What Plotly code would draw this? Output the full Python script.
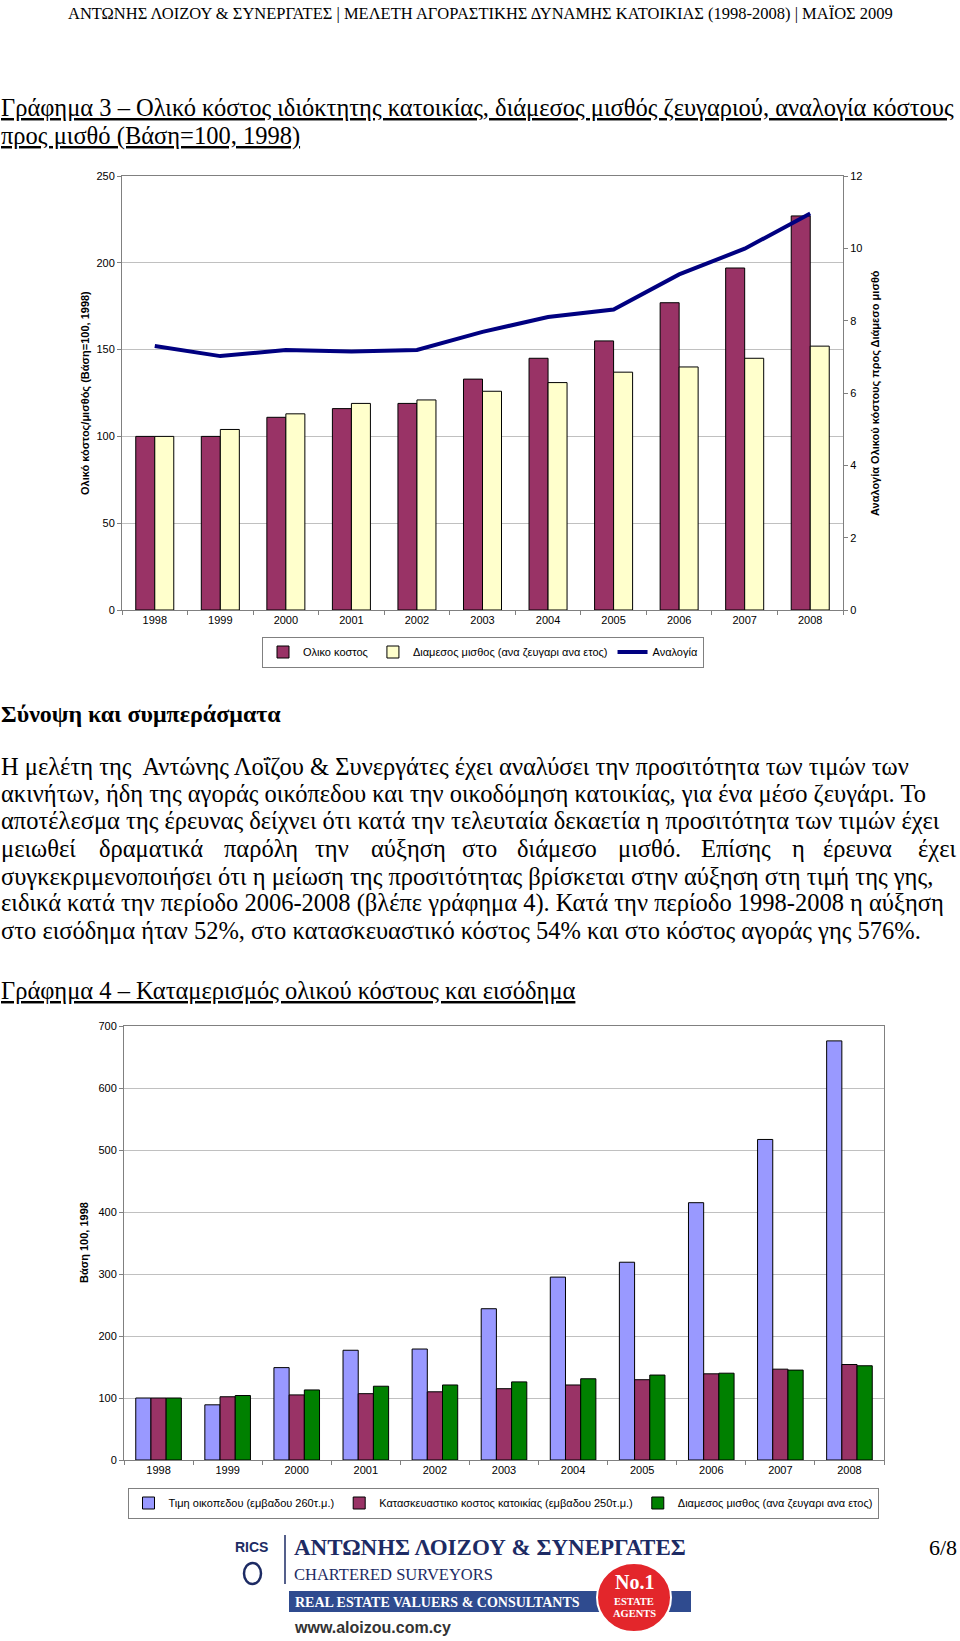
import plotly.graph_objects as go

W, H = 960, 1641

# ---------------- data ----------------
years = ["1998", "1999", "2000", "2001", "2002", "2003", "2004", "2005", "2006", "2007", "2008"]

# Chart 3
total_cost = [100, 100, 111, 116, 119, 133, 145, 155, 177, 197, 227]
median_salary = [100, 104, 113, 119, 121, 126, 131, 137, 140, 145, 152]
ratio = [7.30, 7.02, 7.19, 7.15, 7.19, 7.69, 8.10, 8.31, 9.28, 9.99, 10.96]

# Chart 4
land_price = [100, 89, 149, 177, 179, 244, 295, 319, 415, 517, 676]
construction_cost = [100, 102, 105, 107, 110, 115, 121, 129.5, 139, 146.5, 154]

left_ticks_1 = [0, 50, 100, 150, 200, 250]
right_ticks_1 = [0, 2, 4, 6, 8, 10, 12]
left_ticks_2 = [0, 100, 200, 300, 400, 500, 600, 700]

SERIF = "Liberation Serif, Times New Roman, serif"
SANS = "Liberation Sans, Arial, sans-serif"

MAROON = "#993366"
CREAM = "#FFFFCC"
LBLUE = "#9999FF"
GREEN = "#008000"
NAVY = "#000080"


def X(px):
    return px / W


def Y(py):
    return 1 - py / H


fig = go.Figure()

# ---------- chart 3 ----------
fig.add_trace(go.Bar(x=years, y=total_cost, name="Ολικο κοστος", marker=dict(color=MAROON, line=dict(color="black", width=1)),
                     offset=-0.29, width=0.29, xaxis="x", yaxis="y", legend="legend"))
fig.add_trace(go.Bar(x=years, y=median_salary, name="Διαμεσος μισθος (ανα ζευγαρι ανα ετος)",
                     marker=dict(color=CREAM, line=dict(color="black", width=1)),
                     offset=0.0, width=0.29, xaxis="x", yaxis="y", legend="legend"))
fig.add_trace(go.Scatter(x=years, y=ratio, name="Αναλογία", mode="lines", line=dict(color=NAVY, width=4),
                         xaxis="x", yaxis="y2", legend="legend"))

# ---------- chart 4 ----------
fig.add_trace(go.Bar(x=years, y=land_price, name="Τιμη οικοπεδου (εμβαδου 260τ.μ.)",
                     marker=dict(color=LBLUE, line=dict(color="black", width=1)),
                     offset=-0.33, width=0.22, xaxis="x2", yaxis="y3", legend="legend2"))
fig.add_trace(go.Bar(x=years, y=construction_cost, name="Κατασκευαστικο κοστος κατοικίας (εμβαδου 250τ.μ.)",
                     marker=dict(color=MAROON, line=dict(color="black", width=1)),
                     offset=-0.11, width=0.22, xaxis="x2", yaxis="y3", legend="legend2"))
fig.add_trace(go.Bar(x=years, y=median_salary, name="Διαμεσος μισθος (ανα ζευγαρι ανα ετος)",
                     marker=dict(color=GREEN, line=dict(color="black", width=1)),
                     offset=0.11, width=0.22, xaxis="x2", yaxis="y3", legend="legend2"))

axis_common = dict(showline=True, linecolor="#808080", linewidth=1, ticks="outside", ticklen=4,
                   tickcolor="#808080", tickfont=dict(family=SANS, size=11, color="black"), zeroline=False)

fig.update_layout(
    width=W, height=H, margin=dict(l=0, r=0, t=0, b=0, autoexpand=False),
    paper_bgcolor="white", plot_bgcolor="white", barmode="overlay", showlegend=True,
    xaxis=dict(domain=[X(122), X(843)], anchor="y", type="category", mirror=True, tickson="boundaries",
               showgrid=False, **axis_common),
    yaxis=dict(domain=[Y(610), Y(176)], anchor="x", range=[0, 250], tickvals=left_ticks_1,
               showgrid=True, gridcolor="#c0c0c0", gridwidth=1, **axis_common),
    yaxis2=dict(overlaying="y", side="right", anchor="x", range=[0, 12], tickvals=right_ticks_1,
                showgrid=False, **axis_common),
    xaxis2=dict(domain=[X(124), X(884)], anchor="y3", type="category", mirror=True, tickson="boundaries",
                showgrid=False, **axis_common),
    yaxis3=dict(domain=[Y(1460), Y(1026)], anchor="x2", range=[0, 700], tickvals=left_ticks_2, mirror=True,
                showgrid=True, gridcolor="#c0c0c0", gridwidth=1, **axis_common),
    legend=dict(orientation="h", x=X(483), y=Y(652), xanchor="center", yanchor="middle",
                bordercolor="#808080", borderwidth=1, bgcolor="white",
                font=dict(family=SANS, size=11, color="black"), itemwidth=30, tracegroupgap=0,
                traceorder="normal"),
    legend2=dict(orientation="h", x=X(503), y=Y(1503), xanchor="center", yanchor="middle",
                 bordercolor="#808080", borderwidth=1, bgcolor="white",
                 font=dict(family=SANS, size=11, color="black"), itemwidth=30, tracegroupgap=0,
                 traceorder="normal"),
)

annotations = []


def T(text, x, y, size, xanchor="left", color="black", family=SERIF, angle=0):
    annotations.append(dict(text=text, x=X(x), y=Y(y), xref="paper", yref="paper", xanchor=xanchor,
                            yanchor="middle", showarrow=False, textangle=angle, borderpad=0,
                            font=dict(family=family, size=size, color=color)))


BODY = 24.5

# header
T("ΑΝΤΩΝΗΣ ΛΟΙΖΟΥ & ΣΥΝΕΡΓΑΤΕΣ | ΜΕΛΕΤΗ ΑΓΟΡΑΣΤΙΚΗΣ ΔΥΝΑΜΗΣ ΚΑΤΟΙΚΙΑΣ (1998-2008) | ΜΑΪΟΣ 2009",
  480, 13, 16.5, xanchor="center")

# chart 3 title
T("<u>Γράφημα 3 – Ολικό κόστος ιδιόκτητης κατοικίας, διάμεσος μισθός ζευγαριού, αναλογία κόστους</u>",
  0, 108, BODY)
T("<u>προς μισθό (Βάση=100, 1998)</u>", 0, 136, BODY)

# axis titles chart 3
T("<b>Ολικό κόστος/μισθός (Βάση=100, 1998)</b>", 85, 393, 11, xanchor="center", family=SANS, angle=-90)
T("<b>Αναλογία Ολικού κόστους προς Διάμεσο μισθό</b>", 875, 393, 11, xanchor="center", family=SANS, angle=-90)

# summary heading and paragraph
T("<b>Σύνοψη και συμπεράσματα</b>", 0, 714, 24)

para_lines = [
    "Η μελέτη της  Αντώνης Λοΐζου & Συνεργάτες έχει αναλύσει την προσιτότητα των τιμών των",
    "ακινήτων, ήδη της αγοράς οικόπεδου και την οικοδόμηση κατοικίας, για ένα μέσο ζευγάρι. Το",
    "αποτέλεσμα της έρευνας δείχνει ότι κατά την τελευταία δεκαετία η προσιτότητα των τιμών έχει",
    "μειωθεί δραματικά παρόλη την αύξηση στο διάμεσο μισθό. Επίσης η έρευνα έχει",
    "συγκεκριμενοποιήσει ότι η μείωση της προσιτότητας βρίσκεται στην αύξηση στη τιμή της γης,",
    "ειδικά κατά την περίοδο 2006-2008 (βλέπε γράφημα 4). Κατά την περίοδο 1998-2008 η αύξηση",
    "στο εισόδημα ήταν 52%, στο κατασκευαστικό κόστος 54% και στο κόστος αγοράς γης 576%.",
]
para_y = [767, 794, 821, 848, 876, 903, 930]


def est_width(word, size):
    w = 0.0
    for ch in word:
        if ch in "ιίϊΐ.,;:'":
            w += 0.28
        elif ch in "ωώμ":
            w += 0.6
        elif ch in "()-":
            w += 0.33
        elif ch == "%":
            w += 0.83
        elif ch.isupper():
            w += 0.66
        else:
            w += 0.49
    return w * size


for i, (line, yy) in enumerate(zip(para_lines, para_y)):
    if i == 3:
        words = line.split()
        widths = [est_width(w, BODY) for w in words]
        gap = (956 - sum(widths)) / (len(words) - 1)
        xpos = 0.0
        for j, (wd, ww) in enumerate(zip(words, widths)):
            if j == len(words) - 1:
                T(wd, 957, yy, BODY, xanchor="right")
            else:
                T(wd, xpos, yy, BODY)
            xpos += ww + gap
    else:
        T(line, 0, yy, BODY)

# chart 4 title
T("<u>Γράφημα 4 – Καταμερισμός ολικού κόστους και εισόδημα</u>", 0, 990, BODY)
T("<b>Βάση 100, 1998</b>", 84, 1243, 11, xanchor="center", family=SANS, angle=-90)

# footer
NAVYF = "#1d2b64"
T("<b>RICS</b>", 251, 1547, 14, xanchor="center", color=NAVYF, family=SANS)
T("<b>ΑΝΤΩΝΗΣ ΛΟΙΖΟΥ & ΣΥΝΕΡΓΑΤΕΣ</b>", 293, 1547, 23, color=NAVYF)
T("CHARTERED SURVEYORS", 293, 1574, 16.5, color=NAVYF)
T("<b>REAL ESTATE VALUERS & CONSULTANTS</b>", 294, 1602, 14, color="white")
T("<b>www.aloizou.com.cy</b>", 293, 1627, 16, color="#333333", family=SANS)
T("6/8", 958, 1547, 22, xanchor="right")

shapes = [
    dict(type="line", xref="paper", yref="paper", x0=X(285), x1=X(285), y0=Y(1535), y1=Y(1584),
         line=dict(color=NAVYF, width=1.5)),
    dict(type="rect", xref="paper", yref="paper", x0=X(289), x1=X(691), y0=Y(1612), y1=Y(1591),
         fillcolor="#2f4b8f", line=dict(width=0)),
    dict(type="circle", xref="paper", yref="paper", x0=X(597), x1=X(671), y0=Y(1632), y1=Y(1563),
         fillcolor="#e3262b", line=dict(color="white", width=2)),
    dict(type="circle", xref="paper", yref="paper", x0=X(244), x1=X(261), y0=Y(1584), y1=Y(1563),
         fillcolor="white", line=dict(color=NAVYF, width=2.5)),
]
T("<b>No.1</b>", 634, 1582, 20, xanchor="center", color="white")
T("<b>ESTATE</b>", 634, 1601, 10.5, xanchor="center", color="white")
T("<b>AGENTS</b>", 634, 1613, 10.5, xanchor="center", color="white")

fig.update_layout(annotations=annotations, shapes=shapes)

fig.write_html("out.html", config={"displayModeBar": False},
               post_script="document.body.style.margin='0';document.body.style.overflow='hidden';")
